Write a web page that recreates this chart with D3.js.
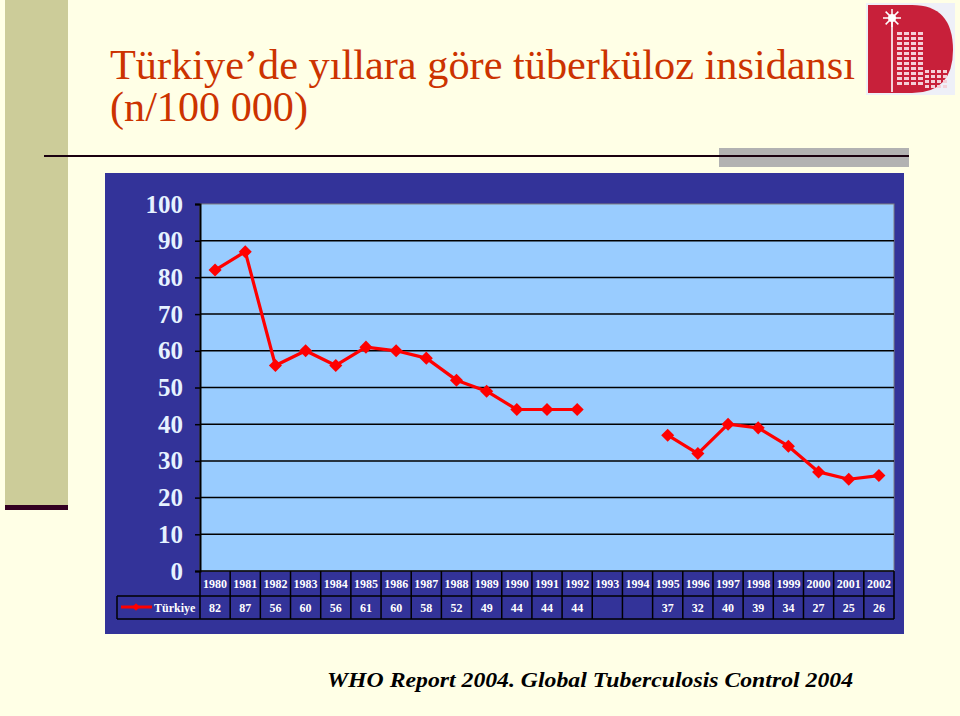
<!DOCTYPE html>
<html><head><meta charset="utf-8">
<script src="https://cdn.jsdelivr.net/npm/d3@7"></script>
</head><body style="margin:0;background:#FFFFE6">
<script>
const years = ["1980","1981","1982","1983","1984","1985","1986","1987","1988","1989","1990","1991","1992","1993","1994","1995","1996","1997","1998","1999","2000","2001","2002"];
const turkiye = [82,87,56,60,56,61,60,58,52,49,44,44,44,null,null,37,32,40,39,34,27,25,26];
const yTicks = [0,10,20,30,40,50,60,70,80,90,100];
const seriesName = "Türkiye";
const titleLines = ["Türkiye’de yıllara göre tüberküloz insidansı","(n/100 000)"];
const sourceText = "WHO Report 2004. Global Tuberculosis Control 2004";

const FONT = "Times New Roman";
const W=960,H=716;
const svg=d3.select("body").append("svg").attr("width",W).attr("height",H).style("display","block")
  .attr("font-family","Times New Roman").style("font-family","Times New Roman");
svg.append("rect").attr("width",W).attr("height",H).attr("fill","#FFFFE6");

// left strip
svg.append("rect").attr("x",5).attr("y",0).attr("width",63).attr("height",506).attr("fill","#CCCC99");
svg.append("rect").attr("x",5).attr("y",505).attr("width",63).attr("height",5).attr("fill","#330022");

// title
svg.append("text").attr("x",110).attr("y",79).style("font-family",FONT).attr("font-size",42)
  .attr("fill","#CC3300").attr("textLength",745).attr("lengthAdjust","spacingAndGlyphs").text(titleLines[0]);
svg.append("text").attr("x",110).attr("y",121).style("font-family",FONT).attr("font-size",42)
  .attr("fill","#CC3300").attr("textLength",198).attr("lengthAdjust","spacingAndGlyphs").text(titleLines[1]);

// rule + gray box
svg.append("rect").attr("x",719).attr("y",148).attr("width",190).attr("height",19).attr("fill","#B2B2B2");
svg.append("rect").attr("x",44).attr("y",155).attr("width",865).attr("height",2).attr("fill","#1a0010");

// logo
const logo=svg.append("g");
logo.append("rect").attr("x",866).attr("y",3).attr("width",89).attr("height",92).attr("fill","#EEF0F8");
logo.append("path").attr("d","M868,5 H912 Q953,5 953,50 Q953,93 912,93 H868 Z").attr("fill","#C8203A");
for(let r=0;r<11;r++){for(let c=0;c<4;c++){logo.append("rect").attr("x",897+c*7).attr("y",32+r*5).attr("width",5).attr("height",3).attr("fill","#F4D0D8");}}
for(let r=0;r<4;r++){for(let c=0;c<4;c++){logo.append("rect").attr("x",925+c*6).attr("y",70+r*5).attr("width",4).attr("height",3).attr("fill","#F4D0D8");}}
logo.append("rect").attr("x",891).attr("y",22).attr("width",2).attr("height",70).attr("fill","#F4D0D8");
logo.append("circle").attr("cx",892).attr("cy",18).attr("r",4).attr("fill","#fff");
[0,45,90,135].forEach(a=>{logo.append("line").attr("x1",892-9*Math.cos(a*Math.PI/180)).attr("y1",18-9*Math.sin(a*Math.PI/180))
  .attr("x2",892+9*Math.cos(a*Math.PI/180)).attr("y2",18+9*Math.sin(a*Math.PI/180)).attr("stroke","#fff").attr("stroke-width",1.5);});

// chart area
svg.append("rect").attr("x",105).attr("y",173).attr("width",799).attr("height",461).attr("fill","#333399");
const pl=200,pr=894,pt=204,pb=571;
const x=d3.scaleBand().domain(years).range([pl,pr]);
const y=d3.scaleLinear().domain([0,100]).range([pb,pt]);
svg.append("rect").attr("x",pl).attr("y",pt).attr("width",pr-pl).attr("height",pb-pt).attr("fill","#99CCFF").attr("stroke","#808080").attr("stroke-width",1);

// gridlines
svg.append("g").selectAll("line").data(yTicks.filter(t=>t>0&&t<100)).join("line")
  .attr("x1",pl).attr("x2",pr).attr("y1",d=>y(d)).attr("y2",d=>y(d)).attr("stroke","#000").attr("stroke-width",1.5);

// y axis
const yAxis=svg.append("g").attr("transform",`translate(${pl},0)`)
  .call(d3.axisLeft(y).tickValues(yTicks).tickSize(5).tickPadding(12));
yAxis.attr("font-family",FONT).attr("font-size",null);
yAxis.select(".domain").attr("stroke","#000").attr("stroke-width",2);
yAxis.selectAll(".tick line").attr("stroke","#000").attr("stroke-width",1.5);
yAxis.selectAll(".tick text").style("font-family",FONT).attr("font-weight","bold").attr("font-size",25).attr("fill","#E6F2FF");

// line
const line=d3.line().defined(d=>d.v!=null).x(d=>x(d.year)+x.bandwidth()/2).y(d=>y(d.v));
const pts=years.map((yr,i)=>({year:yr,v:turkiye[i]}));
svg.append("path").datum(pts).attr("d",line).attr("fill","none").attr("stroke","#FF0000").attr("stroke-width",3.2).attr("stroke-linejoin","round");
const sq=d3.symbol().type(d3.symbolSquare).size(85);
svg.append("g").selectAll("path").data(pts.filter(d=>d.v!=null)).join("path")
  .attr("d",sq).attr("transform",d=>`translate(${x(d.year)+x.bandwidth()/2},${y(d.v)}) rotate(45)`).attr("fill","#FF0000");

// data table
const r1t=pb,r1b=596,r2b=619,legL=117;
const tbl=svg.append("g");
tbl.append("line").attr("x1",pl).attr("x2",pr).attr("y1",r1t).attr("y2",r1t).attr("stroke","#000").attr("stroke-width",1.5);
tbl.append("line").attr("x1",legL).attr("x2",pr).attr("y1",r1b).attr("y2",r1b).attr("stroke","#000").attr("stroke-width",1.5);
tbl.append("line").attr("x1",legL).attr("x2",pr).attr("y1",r2b).attr("y2",r2b).attr("stroke","#000").attr("stroke-width",1.5);
tbl.append("line").attr("x1",legL).attr("x2",legL).attr("y1",r1b).attr("y2",r2b).attr("stroke","#000").attr("stroke-width",1.5);
tbl.selectAll(".vl").data(years.concat(["end"])).join("line")
  .attr("x1",(d,i)=>pl+i*x.bandwidth()).attr("x2",(d,i)=>pl+i*x.bandwidth())
  .attr("y1",r1t).attr("y2",r2b).attr("stroke","#000").attr("stroke-width",1.5);
tbl.selectAll(".yr").data(years).join("text")
  .attr("x",d=>x(d)+x.bandwidth()/2).attr("y",588).attr("text-anchor","middle").style("font-family",FONT)
  .attr("font-weight","bold").attr("font-size",12).attr("fill","#fff").text(d=>d);
tbl.selectAll(".val").data(pts).join("text")
  .attr("x",d=>x(d.year)+x.bandwidth()/2).attr("y",612).attr("text-anchor","middle").style("font-family",FONT)
  .attr("font-weight","bold").attr("font-size",12).attr("fill","#fff").text(d=>d.v==null?"":d.v);
// legend key
tbl.append("line").attr("x1",121).attr("x2",152).attr("y1",607).attr("y2",607).attr("stroke","#FF0000").attr("stroke-width",3);
tbl.append("path").attr("d",d3.symbol().type(d3.symbolSquare).size(30)).attr("transform","translate(136,607) rotate(45)").attr("fill","#FF0000");
tbl.append("text").attr("x",154).attr("y",612).style("font-family",FONT).attr("font-weight","bold").attr("font-size",12).attr("fill","#fff").text(seriesName);

// source
svg.append("text").attr("x",327).attr("y",687).style("font-family",FONT).attr("font-weight","bold").attr("font-style","italic")
  .attr("font-size",22).attr("fill","#000").attr("textLength",526).attr("lengthAdjust","spacingAndGlyphs").text(sourceText);
</script>
</body></html>
